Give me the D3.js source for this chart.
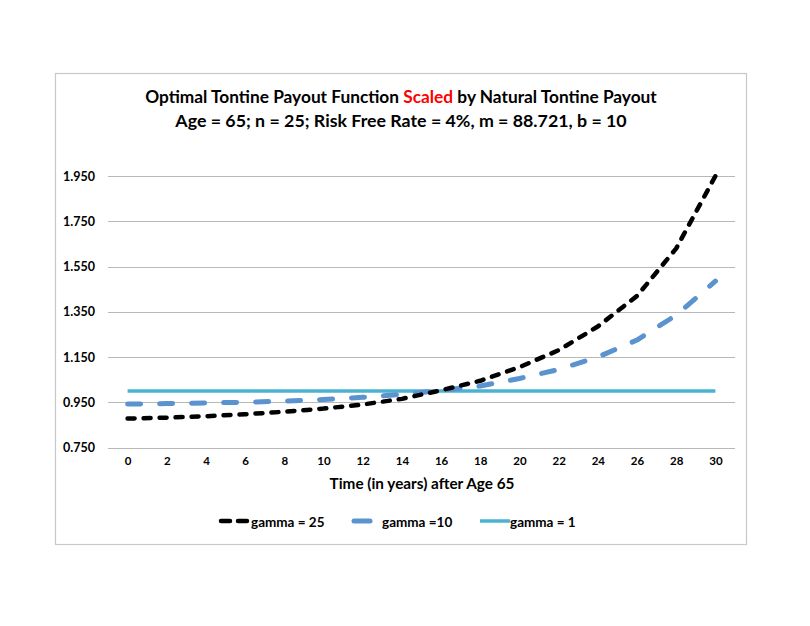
<!DOCTYPE html>
<html>
<head>
<meta charset="utf-8">
<script src="https://cdn.jsdelivr.net/npm/d3@7"></script>
<style>
  body { margin: 0; background: #fff; }
  text { font-family: Lato, "Open Sans", sans-serif; font-weight: bold; fill: #000; }
</style>
</head>
<body>
<svg width="810" height="626"></svg>
<script>
// chart data
var years = [0, 2, 4, 6, 8, 10, 12, 14, 16, 18, 20, 22, 24, 26, 28, 30];
var gamma25 = [0.878, 0.882, 0.888, 0.897, 0.908, 0.922, 0.940, 0.965, 1.003, 1.045, 1.105, 1.180, 1.285, 1.420, 1.630, 1.950];
var gamma10 = [0.942, 0.944, 0.947, 0.950, 0.955, 0.962, 0.972, 0.985, 1.002, 1.022, 1.055, 1.095, 1.150, 1.225, 1.335, 1.485];
var gamma1 = [1, 1, 1, 1, 1, 1, 1, 1, 1, 1, 1, 1, 1, 1, 1, 1];
var yTicks = [0.75, 0.95, 1.15, 1.35, 1.55, 1.75, 1.95];
var seriesNames = ["gamma = 25", "gamma =10", "gamma = 1"];

var svg = d3.select("svg");

// outer chart frame
svg.append("rect")
  .attr("x", 55.5).attr("y", 73.5)
  .attr("width", 691).attr("height", 471)
  .attr("fill", "#fff")
  .attr("stroke", "#c8c8c8").attr("stroke-width", 1.2);

var x = d3.scalePoint().domain(years).range([108, 735]).padding(0.5);
var y = d3.scaleLinear().domain([0.75, 1.95]).range([447.5, 176]);

// horizontal gridlines
svg.append("g").selectAll("line")
  .data(yTicks).enter().append("line")
  .attr("x1", 108).attr("x2", 735)
  .attr("y1", function(d) { return Math.round(y(d)) + 0.5; })
  .attr("y2", function(d) { return Math.round(y(d)) + 0.5; })
  .attr("stroke", "#b8b8b8").attr("stroke-width", 1);

// y axis labels
var yAxis = d3.axisLeft(y).tickValues(yTicks).tickFormat(d3.format(".3f")).tickSize(0).tickPadding(0);
var gy = svg.append("g").attr("transform", "translate(95,0)").call(yAxis);
gy.select(".domain").remove();
gy.selectAll("text").style("font-size", "12.5px").style("font-family", "Lato, sans-serif").style("font-weight", "bold");

// x axis labels
var xAxis = d3.axisBottom(x).tickSize(0).tickPadding(0);
var gx = svg.append("g").attr("transform", "translate(0,457)").call(xAxis);
gx.select(".domain").remove();
gx.selectAll("text").style("font-size", "11.5px").style("font-family", "Lato, sans-serif").style("font-weight", "bold");

svg.append("text").attr("x", 422).attr("y", 489)
  .attr("text-anchor", "middle").style("font-size", "15.3px")
  .text("Time (in years) after Age 65");

// title
var t1 = svg.append("text").attr("x", 401).attr("y", 103)
  .attr("text-anchor", "middle").style("font-size", "17.3px");
t1.append("tspan").text("Optimal Tontine Payout Function ");
t1.append("tspan").style("fill", "#ff0000").text("Scaled");
t1.append("tspan").text(" by Natural Tontine Payout");
svg.append("text").attr("x", 401).attr("y", 127)
  .attr("text-anchor", "middle").style("font-size", "17.8px")
  .text("Age = 65; n = 25; Risk Free Rate = 4%, m = 88.721, b = 10");

// series lines
var styles = [
  { vals: gamma25, color: "#000000", width: 4.5, dash: "7,9" },
  { vals: gamma10, color: "#5b93cf", width: 5, dash: "13,19" },
  { vals: gamma1, color: "#4bb3cf", width: 3.5, dash: null }
];
var line = d3.line()
  .x(function(d, i) { return x(years[i]); })
  .y(function(d) { return y(d); });

// draw cyan first, then blue, then black on top
[2, 1, 0].forEach(function(k) {
  var s = styles[k];
  svg.append("path")
    .datum(s.vals)
    .attr("d", line)
    .attr("fill", "none")
    .attr("stroke", s.color)
    .attr("stroke-width", s.width)
    .attr("stroke-linecap", s.dash ? "round" : "butt")
    .attr("stroke-linejoin", "round")
    .attr("stroke-dasharray", s.dash);
});

// legend
var legend = [
  { x1: 221, x2: 249, tx: 251 },
  { x1: 354, x2: 370, tx: 382 },
  { x1: 480, x2: 510, tx: 510 }
];
legend.forEach(function(l, k) {
  var s = styles[k];
  svg.append("line")
    .attr("x1", l.x1).attr("x2", l.x2)
    .attr("y1", 521).attr("y2", 521)
    .attr("stroke", s.color).attr("stroke-width", s.width)
    .attr("stroke-linecap", s.dash ? "round" : "butt")
    .attr("stroke-dasharray", k === 0 ? "9,8" : null);
  svg.append("text").attr("x", l.tx).attr("y", 527)
    .style("font-size", "13.5px")
    .text(seriesNames[k]);
});
</script>
</body>
</html>
